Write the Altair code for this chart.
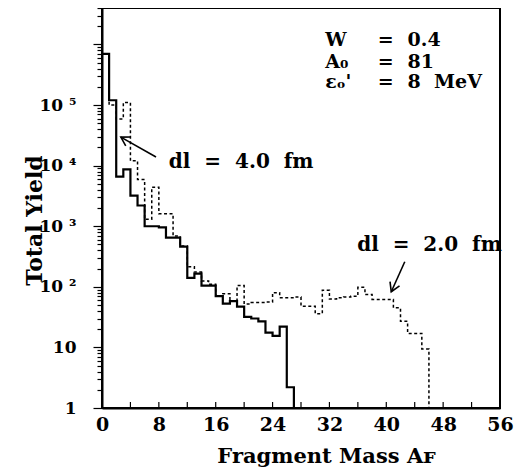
import altair as alt
import pandas as pd

# ---- data (bin width 1 in A_F, starting at 0) ----
solid_yield = [7.0e5, 1.2e5, 6.6e3, 8.7e3, 3.2e3, 2.2e3, 1.0e3, 1.0e3, 9.6e2, 6.5e2,
               6.5e2, 4.6e2, 140, 165, 105, 105, 70, 53, 58, 47,
               32, 30, 27, 17.5, 15.5, 22, 2.2]
dashed_yield = [7.0e5, 1.0e5, 5.9e4, 1.1e5, 1.2e4, 5.9e3, 1.3e3, 4.4e3, 1.6e3, 1.6e3,
                690, 470, 215, 175, 125, 110, 70, 77, 58, 105,
                52, 55, 55, 56, 80, 66, 66, 68, 48, 48,
                36, 88, 63, 66, 68, 70, 98, 75, 62, 62,
                62, 45, 27, 17, 17, 9.4]

x_labels = [0, 8, 16, 24, 32, 40, 48, 56]
x_minor = list(range(0, 57, 4))
y_ticks = [m * 10 ** d for d in range(0, 7) for m in range(1, 10) if m * 10 ** d <= 4e6]

NB = "\u00a0"
ann_text = [f"dl{NB*2}={NB*2}4.0{NB*2}fm", f"dl{NB*2}={NB*2}2.0{NB*2}fm"]
ann_x = [9.4, 35.9]
ann_y = [1.15e4, 490]

arrow_x = [7.6, 42.6]
arrow_y = [1.39e4, 259]
arrow_x2 = [2.65, 40.7]
arrow_y2 = [2.96e4, 83]
arrow_angle = [210, 114]

param_names = ["W", "A₀", "εₒ'"]
param_vals = ["0.4", "81", f"8{NB*2}MeV"]
param_y = [1.2e6, 5.2e5, 2.4e5]
param_x_name = 31.4
param_x_eq = 38.8
param_x_val = 43.0

W, H = 398, 400


def steps(vals):
    xs = list(range(len(vals) + 1))
    ys = list(vals) + [1]
    return pd.DataFrame({"A": xs, "Y": ys})


FONT = "DejaVu Serif"
xscale = alt.Scale(domain=[0, 56], nice=False, zero=False)
yscale = alt.Scale(type="log", domain=[1, 4e6], nice=False)

label_expr = ("datum.value == 1 ? '1' : datum.value == 10 ? '10' : "
              "datum.value == 100 ? '10 ²' : datum.value == 1000 ? '10 ³' : "
              "datum.value == 10000 ? '10 ⁴' : datum.value == 100000 ? '10 ⁵' : ''")

yaxis = alt.Axis(values=y_ticks, labelExpr=label_expr, grid=False,
                 tickSize={"condition": {"test": "indexof([1,10,100,1000,10000,100000,1000000], datum.value) >= 0",
                                         "value": 9}, "value": 5},
                 tickColor="black", tickWidth=1.2, domainColor="black", domainWidth=2,
                 labelFont=FONT, labelFontWeight="bold", labelFontSize=17, labelColor="black",
                 labelPadding=17, labelOverlap=False,
                 title="Total Yield", titleFont=FONT, titleFontWeight="bold", titleFontSize=22,
                 titleColor="black", titleX=-56, titleY=212, titleAngle=270,
                 titleAlign="center", titleBaseline="bottom")
xaxis = alt.Axis(values=x_labels, grid=False, ticks=False, domainColor="black", domainWidth=2,
                 labelFont=FONT, labelFontWeight="bold", labelFontSize=19, labelColor="black",
                 labelPadding=7, labelFlush=False,
                 title="Fragment Mass Aꜰ", titleFont=FONT, titleFontWeight="bold", titleFontSize=21,
                 titleColor="black", titleX=224, titleY=37, titleAlign="center", titleBaseline="top")

frame = alt.Chart(pd.DataFrame({"d": [0]})).mark_rect(
    fill=None, stroke="black", strokeWidth=2
).encode(x=alt.value(0), x2=alt.value(W), y=alt.value(0), y2=alt.value(H))

solid = alt.Chart(steps(solid_yield)).mark_line(
    interpolate="step-after", color="black", strokeWidth=2.2, clip=True
).encode(x=alt.X("A:Q", scale=xscale, axis=xaxis), y=alt.Y("Y:Q", scale=yscale, axis=yaxis))

dashed = alt.Chart(steps(dashed_yield)).mark_line(
    interpolate="step-after", color="black", strokeWidth=1.5, strokeDash=[3, 2.5], clip=True
).encode(x="A:Q", y="Y:Q")

ticks = alt.Chart(pd.DataFrame({"A": x_minor})).mark_rule(color="black", strokeWidth=1.2).encode(
    x="A:Q", y=alt.value(H), y2=alt.value(H - 6))

ann = alt.Chart(pd.DataFrame({"t": ann_text, "A": ann_x, "Y": ann_y})).mark_text(
    font=FONT, fontWeight="bold", fontSize=20, align="left", baseline="middle", color="black"
).encode(x="A:Q", y="Y:Q", text="t:N")

arrows_df = pd.DataFrame({"A": arrow_x, "Y": arrow_y, "A2": arrow_x2, "Y2": arrow_y2, "ang": arrow_angle})
shafts = alt.Chart(arrows_df).mark_rule(color="black", strokeWidth=1.6).encode(
    x="A:Q", y="Y:Q", x2="A2:Q", y2="Y2:Q")
heads = alt.Chart(arrows_df).mark_point(
    shape="M-1,-0.6L0,0L-1,0.6", filled=False, color="black", strokeWidth=1.6, size=300, opacity=1
).encode(x="A2:Q", y="Y2:Q", angle=alt.Angle("ang:Q", scale=None))

pdf = pd.DataFrame({"n": param_names, "v": param_vals, "Y": param_y,
                    "xn": [param_x_name] * 3, "xe": [param_x_eq] * 3, "xv": [param_x_val] * 3,
                    "eq": ["="] * 3})
ptxt = alt.Chart(pdf).mark_text(font=FONT, fontWeight="bold", fontSize=19, align="left",
                                baseline="middle", color="black")
p1 = ptxt.encode(x="xn:Q", y="Y:Q", text="n:N")
p2 = ptxt.encode(x="xe:Q", y="Y:Q", text="eq:N")
p3 = ptxt.encode(x="xv:Q", y="Y:Q", text="v:N")

chart = alt.layer(solid, dashed, frame, ticks, shafts, heads, ann, p1, p2, p3).properties(
    width=W, height=H,
    autosize=alt.AutoSizeParams(type="none"),
    padding={"left": 94, "top": 0, "right": 14, "bottom": 59},
    background="white",
).configure_view(stroke="black", strokeWidth=2)

chart.save("out.html", embed_options={"renderer": "svg", "actions": False})
